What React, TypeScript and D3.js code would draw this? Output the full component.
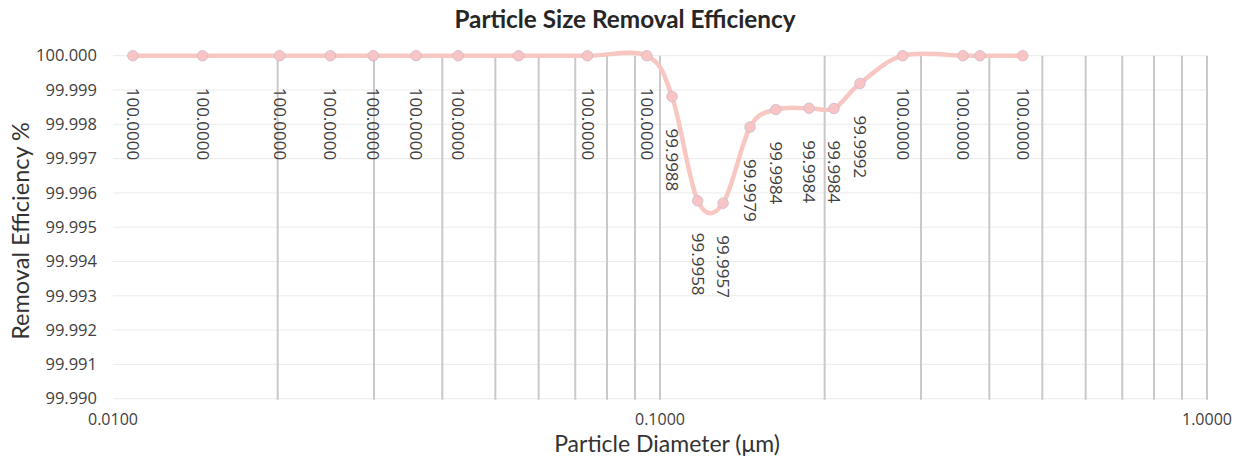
import React from "react";
import * as d3 from "d3";

const diameters = [
  0.01087, 0.01458, 0.02017, 0.02497, 0.0299, 0.03581, 0.04276, 0.05514, 0.07369, 0.0946,
  0.1052, 0.1172, 0.1304, 0.1461, 0.1628, 0.1873, 0.208, 0.232, 0.2778, 0.3581, 0.3846, 0.4604,
];
const efficiency = [
  100.0, 100.0, 100.0, 100.0, 100.0, 100.0, 100.0, 100.0, 100.0, 100.0,
  99.99881, 99.99577, 99.9957, 99.99792, 99.99843, 99.99847, 99.99846, 99.99919, 100.0, 100.0, 100.0, 100.0,
];
const labels = [
  "100.0000", "100.0000", "100.0000", "100.0000", "100.0000", "100.0000", "100.0000", "", "100.0000", "100.0000",
  "99.9988", "99.9958", "99.9957", "99.9979", "99.9984", "99.9984", "99.9984", "99.9992", "100.0000", "100.0000", "", "100.0000",
];
const yTicks = [99.99, 99.991, 99.992, 99.993, 99.994, 99.995, 99.996, 99.997, 99.998, 99.999, 100.0];
const xMajor = [0.01, 0.1, 1];
const xMinor = [0.02, 0.03, 0.04, 0.05, 0.06, 0.07, 0.08, 0.09, 0.1, 0.2, 0.3, 0.4, 0.5, 0.6, 0.7, 0.8, 0.9, 1.0];

const W = 1242;
const H = 458;
const L = 113, R = 1207, T = 55.7, B = 398.7;

const tickFont = "'Open Sans', 'Noto Sans', sans-serif";
const titleFont = "Lato, 'Noto Sans', sans-serif";

export default function App() {
  const x = d3.scaleLog().domain([0.01, 1]).range([L, R]);
  const y = d3.scaleLinear().domain([99.99, 100.0]).range([B, T]);
  const pts: [number, number][] = diameters.map((d, i) => [x(d), y(efficiency[i])]);
  const line = d3.line().curve(d3.curveCardinal.tension(0))(pts) || "";

  return (
    <svg width={W} height={H} style={{ position: "absolute", left: 0, top: 0, background: "#fff" }}>
      {yTicks.map((t) => (
        <line key={"h" + t} x1={L} x2={R} y1={y(t)} y2={y(t)} stroke="#ebebeb" strokeWidth={1} />
      ))}
      {xMinor.map((t) => (
        <line key={"v" + t} x1={x(t)} x2={x(t)} y1={T} y2={B + 1} stroke="#c9c9c9" strokeWidth={2} />
      ))}
      {yTicks.map((t) => (
        <text key={"yt" + t} x={97} y={y(t)} dy="0.35em" textAnchor="end" fontFamily={tickFont} fontSize={16.5} fill="#404040">
          {t.toFixed(3)}
        </text>
      ))}
      {xMajor.map((t) => (
        <text key={"xt" + t} x={x(t)} y={425} textAnchor="middle" fontFamily={tickFont} fontSize={16} fill="#404040">
          {t.toFixed(4)}
        </text>
      ))}
      <path d={line} fill="none" stroke="#f8c7c1" strokeWidth={4.5} strokeLinecap="round" />
      {pts.map((p, i) => (
        <circle key={"c" + i} cx={p[0]} cy={p[1]} r={5.3} fill="#f8c4c4" stroke="#c4b8cc" strokeWidth={0.7} />
      ))}
      {pts.map((p, i) =>
        labels[i] ? (
          <text
            key={"l" + i}
            transform={`translate(${p[0]},${p[1] + 32}) rotate(90)`}
            textAnchor="start"
            dy="0.35em"
            fontFamily={tickFont}
            fontSize={17}
            fill="#404040"
          >
            {labels[i]}
          </text>
        ) : null
      )}
      <text x={625} y={28} textAnchor="middle" fontFamily={titleFont} fontWeight="bold" fontSize={24.3} fill="#262626">
        Particle Size Removal Efficiency
      </text>
      <text x={667} y={452} textAnchor="middle" fontFamily={titleFont} fontWeight={400} fontSize={23} fill="#333333">
        Particle Diameter (μm)
      </text>
      <text transform="translate(29,231) rotate(-90)" textAnchor="middle" fontFamily={titleFont} fontWeight={400} fontSize={23.5} fill="#333333">
        Removal Efficiency %
      </text>
    </svg>
  );
}
